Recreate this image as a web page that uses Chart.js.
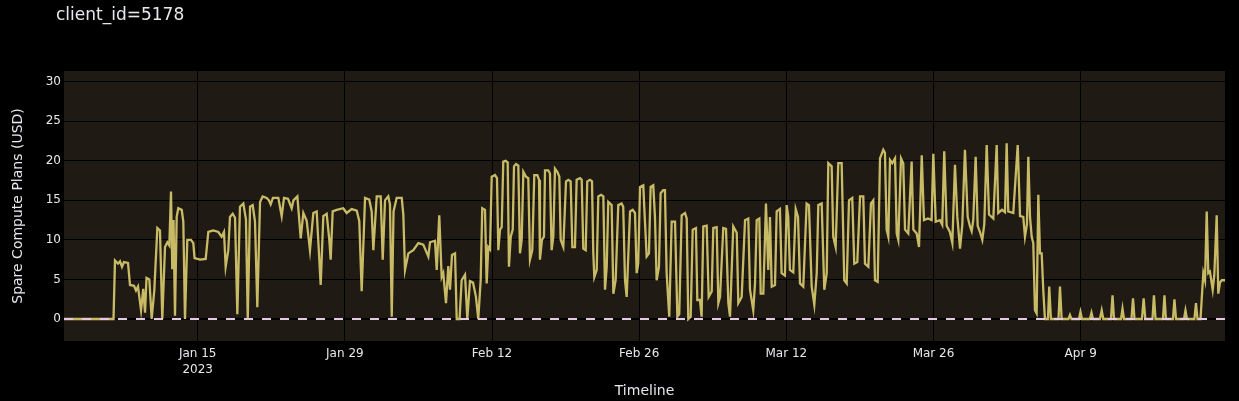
<!DOCTYPE html>
<html lang="en">
<head>
    <meta charset="UTF-8">
    <title>client_id=5178</title>
    <style>
        body {
            margin: 0;
            background-color: #000;
        }
        #wrap {
            position: relative;
            width: 1239px;
            height: 401px;
        }
        #wrap canvas { display: block; }
        #title {
            position: absolute;
            left: 56px;
            top: 4px;
            font-family: "DejaVu Sans", Verdana, sans-serif;
            font-size: 17px;
            color: #e6e8ec;
        }
    </style>
</head>
<body>

<div id="wrap">
    <div id="title">client_id=5178</div>
    <canvas id="chart" width="1239" height="401"></canvas>
</div>

<script src="https://cdn.jsdelivr.net/npm/chart.js"></script>

<script>
    // days since 2023-01-01 00:00
    const days = [
        1.28, 5.99, 6.13, 6.42, 6.61, 6.80, 6.99, 7.37, 7.56, 7.94,
        8.13, 8.32, 8.61, 8.82, 8.99, 9.13, 9.40, 9.62, 9.87, 10.16,
        10.41, 10.63, 10.89, 11.11, 11.30, 11.46, 11.58, 11.70, 11.84, 12.00,
        12.15, 12.48, 12.63, 12.79, 13.01, 13.36, 13.58, 13.70, 14.22, 14.76,
        15.01, 15.48, 15.96, 16.28, 16.50, 16.66, 16.91, 17.07, 17.33, 17.55,
        17.77, 18.02, 18.34, 18.59, 18.76, 18.98, 19.23, 19.45, 19.67, 19.93,
        20.18, 20.56, 20.78, 20.94, 21.16, 21.67, 21.99, 22.21, 22.59, 22.94,
        23.11, 23.48, 23.80, 24.05, 24.37, 24.68, 25.00, 25.32, 25.70, 25.95,
        26.27, 26.52, 26.65, 26.84, 27.22, 27.85, 28.17, 28.65, 29.13, 29.37,
        29.60, 29.92, 30.32, 30.55, 30.71, 31.03, 31.41, 31.60, 31.82, 32.13,
        32.29, 32.46, 32.63, 32.93, 33.41, 33.56, 33.72, 34.04, 34.51, 34.99,
        35.46, 35.94, 36.10, 36.57, 36.74, 36.98, 37.21, 37.36, 37.62, 37.84,
        38.00, 38.19, 38.48, 38.64, 38.91, 39.11, 39.43, 39.65, 39.90, 40.19,
        40.47, 40.69, 40.92, 41.07, 41.33, 41.49, 41.64, 41.81, 41.97, 42.28,
        42.47, 42.60, 42.76, 42.92, 43.07, 43.30, 43.49, 43.61, 43.78, 43.97,
        44.09, 44.28, 44.50, 44.66, 44.82, 44.98, 45.23, 45.45, 45.61, 45.83,
        46.02, 46.31, 46.47, 46.56, 46.75, 46.94, 47.04, 47.35, 47.51, 47.67,
        47.83, 47.99, 48.21, 48.40, 48.53, 48.78, 49.04, 49.26, 49.48, 49.64,
        49.89, 50.05, 50.37, 50.53, 50.68, 50.91, 51.06, 51.32, 51.51, 51.63,
        51.73, 51.96, 52.11, 52.37, 52.59, 52.75, 52.91, 53.06, 53.38, 53.54,
        53.76, 54.01, 54.33, 54.48, 54.65, 54.81, 54.96, 55.13, 55.38, 55.60,
        55.76, 55.91, 56.08, 56.39, 56.48, 56.71, 56.93, 57.09, 57.34, 57.50,
        57.66, 57.88, 58.04, 58.29, 58.45, 58.61, 58.86, 59.09, 59.41, 59.63,
        59.81, 60.04, 60.36, 60.52, 60.67, 60.90, 61.09, 61.40, 61.53, 61.78,
        61.94, 62.10, 62.42, 62.61, 62.90, 63.05, 63.37, 63.53, 63.69, 64.00,
        64.26, 64.48, 64.64, 64.95, 65.28, 65.43, 65.75, 66.07, 66.38, 66.54,
        66.85, 67.02, 67.18, 67.43, 67.56, 67.81, 68.06, 68.28, 68.44, 68.61,
        68.92, 69.08, 69.39, 69.55, 69.87, 70.03, 70.18, 70.34, 70.66, 70.89,
        71.11, 71.30, 71.61, 71.93, 72.15, 72.41, 72.66, 72.89, 73.04, 73.36,
        73.61, 73.84, 73.99, 74.31, 74.46, 74.69, 74.94, 75.26, 75.51, 75.74,
        75.96, 76.27, 76.46, 76.75, 77.01, 77.32, 77.48, 77.80, 78.05, 78.27,
        78.43, 78.69, 78.91, 79.22, 79.38, 79.54, 79.70, 79.86, 80.08, 80.34,
        80.50, 80.65, 80.91, 81.12, 81.29, 81.60, 81.92, 82.08, 82.40, 82.62,
        82.88, 83.09, 83.47, 83.82, 83.98, 84.21, 84.61, 84.83, 85.02, 85.25,
        85.56, 85.79, 86.04, 86.26, 86.52, 86.74, 86.99, 87.25, 87.47, 87.63,
        87.78, 88.01, 88.20, 88.42, 88.64, 88.83, 89.06, 89.28, 89.69, 90.01,
        90.16, 90.51, 90.80, 90.96, 91.11, 91.59, 92.01, 92.23, 92.54, 92.70,
        92.89, 93.02, 93.18, 93.34, 93.49, 93.65, 93.81, 93.97, 94.13, 94.29,
        94.44, 94.60, 94.89, 95.01, 95.17, 95.89, 96.03, 96.19, 96.84, 96.98,
        97.12, 97.84, 97.98, 98.12, 98.88, 99.03, 99.17, 99.83, 100.00, 100.15,
        100.88, 101.03, 101.17, 101.84, 101.98, 102.12, 102.83, 102.98, 103.12, 103.83,
        103.99, 104.15, 104.83, 104.97, 105.12, 105.83, 105.97, 106.11, 106.78, 106.92,
        107.07, 107.83, 107.97, 108.11, 108.82, 108.97, 109.11, 109.40, 109.51, 109.67,
        109.83, 109.99, 110.14, 110.30, 110.56, 110.71, 110.94, 111.09, 111.25, 111.41,
        111.73
    ];

    // spare compute plans, USD
    const spare = [
        0, 0, 7.4, 7.0, 7.3, 6.6, 7.2, 7.1, 4.3, 4.2,
        3.6, 4.1, 1.1, 3.8, 0.8, 5.2, 5.0, 0.0, 3.6, 11.5,
        11.2, 0, 9.1, 9.7, 9.3, 16.1, 6.3, 12.5, 0.4, 12.9,
        14.0, 13.8, 12.3, 0, 10.0, 10.0, 9.6, 7.7, 7.5, 7.6,
        11.0, 11.2, 11.0, 10.4, 11.0, 6.6, 8.7, 12.9, 13.3, 12.8,
        0.6, 14.2, 14.6, 12.6, 0, 14.2, 14.4, 12.3, 1.5, 14.8,
        15.5, 15.3, 15.0, 14.5, 15.3, 15.3, 13.0, 15.3, 15.2, 14.0,
        15.0, 15.5, 10.2, 13.4, 12.4, 8.7, 13.4, 13.6, 4.3, 13.0,
        13.3, 10.0, 7.5, 13.6, 13.8, 14.0, 13.4, 13.9, 13.7, 12.4,
        3.5, 15.3, 15.1, 13.6, 8.7, 15.5, 15.5, 7.5, 15.0, 15.5,
        14.5, 0.3, 13.6, 15.3, 15.3, 13.2, 6.2, 8.3, 8.7, 9.6,
        9.4, 7.9, 9.7, 9.9, 6.2, 13.1, 5.3, 5.8, 2.0, 6.7,
        3.7, 8.1, 8.3, 0, 0, 4.9, 5.6, 0, 4.8, 4.6,
        2.8, 0, 4.9, 14.0, 13.8, 4.5, 9.1, 8.8, 18.0, 18.2,
        17.8, 8.7, 11.3, 11.6, 19.9, 20.0, 19.8, 6.6, 10.4, 11.3,
        19.3, 19.6, 19.4, 8.3, 10.0, 18.6, 18.0, 17.8, 7.5, 8.7,
        18.2, 18.2, 17.6, 7.5, 10.0, 10.4, 18.8, 18.8, 18.4, 8.7,
        10.4, 19.0, 18.6, 18.0, 10.0, 9.1, 17.4, 17.6, 17.4, 9.1,
        9.1, 17.6, 17.8, 17.6, 8.9, 8.7, 17.4, 17.6, 17.4, 8.5,
        5.3, 6.2, 15.5, 15.7, 15.5, 3.7, 6.6, 14.8, 14.4, 3.2,
        4.9, 14.4, 14.6, 14.2, 4.9, 2.8, 7.9, 13.6, 13.8, 13.4,
        5.8, 7.0, 16.7, 16.9, 14.2, 7.9, 8.3, 16.7, 16.9, 12.9,
        4.9, 6.6, 15.9, 16.3, 16.3, 5.8, 0.3, 12.3, 12.3, 0.3,
        0.6, 13.1, 13.4, 12.7, 0, 0.3, 11.3, 11.5, 2.4, 2.4,
        0.3, 11.7, 11.8, 2.8, 3.5, 11.5, 11.6, 2.0, 2.8, 11.5,
        11.4, 2.0, 0.3, 11.7, 10.9, 2.0, 2.8, 12.5, 12.7, 3.7,
        1.1, 4.5, 12.5, 12.7, 3.2, 3.2, 14.6, 6.2, 12.9, 4.1,
        4.3, 13.6, 13.9, 5.8, 5.5, 14.4, 12.9, 6.2, 5.9, 13.9,
        12.9, 4.5, 4.1, 14.6, 14.4, 4.1, 1.8, 5.8, 14.4, 14.6,
        3.7, 5.8, 19.7, 19.3, 10.4, 9.1, 19.7, 19.7, 4.9, 4.5,
        15.0, 15.3, 7.0, 7.2, 15.5, 15.5, 7.0, 6.6, 14.6, 15.0,
        4.9, 4.7, 20.3, 21.4, 21.0, 11.3, 10.4, 20.1, 19.7, 20.3,
        10.8, 10.0, 20.3, 19.7, 11.3, 10.8, 19.9, 11.3, 10.8, 9.1,
        20.7, 12.5, 12.7, 12.5, 20.9, 12.3, 12.5, 11.9, 21.2, 11.8,
        11.0, 9.6, 19.5, 13.0, 8.9, 11.9, 21.4, 12.9, 11.7, 11.1,
        12.5, 20.5, 11.8, 11.0, 10.0, 12.0, 22.0, 13.2, 12.7, 22.0,
        13.4, 13.8, 13.5, 22.2, 13.6, 13.4, 22.0, 13.0, 12.9, 10.4,
        12.0, 20.5, 12.9, 10.4, 9.6, 1.1, 0.7, 15.7, 8.3, 8.3,
        3.7, 0, 0, 4.1, 0, 0, 4.1, 0, 0, 0.5,
        0, 0, 0.9, 0, 0, 0.8, 0, 0, 1.1, 0,
        0, 3.0, 0, 0, 1.3, 0, 0, 2.6, 0, 0,
        2.6, 0, 0, 3.0, 0, 0, 3.0, 0, 0, 2.5,
        0, 0, 1.1, 0, 0, 2.0, 0, 0, 2.4, 5.8,
        4.9, 13.6, 5.8, 6.0, 3.7, 5.5, 13.1, 3.2, 4.6, 4.9,
        4.9
    ];

    const xTickDays = [14, 28, 42, 56, 70, 84, 98];
    const xTickLabels = [['Jan 15', '2023'], 'Jan 29', 'Feb 12', 'Feb 26', 'Mar 12', 'Mar 26', 'Apr 9'];
    const yTicks = [0, 5, 10, 15, 20, 25, 30];
    const hlineValue = 0;

    const textColor = '#e6e8ec';
    Chart.defaults.font.family = '"DejaVu Sans", Verdana, sans-serif';
    Chart.defaults.color = textColor;

    const plotBackground = {
        id: 'plotBackground',
        beforeDraw(chart) {
            const { ctx, chartArea: a } = chart;
            ctx.save();
            ctx.fillStyle = '#000';
            ctx.fillRect(0, 0, chart.width, chart.height);
            ctx.fillStyle = '#1f1b14';
            ctx.fillRect(a.left, a.top, a.right - a.left, a.bottom - a.top);
            ctx.restore();
        }
    };

    const seriesPoints = days.map((d, i) => ({ x: d, y: spare[i] }));
    const hlinePoints = [
        { x: days[0], y: hlineValue },
        { x: days[days.length - 1], y: hlineValue }
    ];

    new Chart(document.getElementById('chart'), {
        type: 'line',
        data: {
            datasets: [
                {
                    label: 'zero',
                    data: hlinePoints,
                    borderColor: '#e4c9e4',
                    borderWidth: 2,
                    borderDash: [9, 9],
                    pointRadius: 0
                },
                {
                    label: 'Spare Compute Plans (USD)',
                    data: seriesPoints,
                    borderColor: '#c9bb66',
                    borderWidth: 2.3,
                    pointRadius: 0,
                    tension: 0
                }
            ]
        },
        options: {
            responsive: false,
            animation: false,
            layout: { padding: { top: 71, right: 14, left: 0, bottom: 0 } },
            plugins: {
                legend: { display: false },
                tooltip: { enabled: false },
                title: { display: false }
            },
            scales: {
                x: {
                    type: 'linear',
                    min: days[0],
                    max: days[days.length - 1],
                    afterBuildTicks: scale => { scale.ticks = xTickDays.map(v => ({ value: v })); },
                    afterFit: scale => { scale.height = 60; },
                    grid: { color: '#000', lineWidth: 1, drawTicks: false },
                    border: { display: false },
                    ticks: {
                        autoSkip: false,
                        maxRotation: 0,
                        padding: 4,
                        color: textColor,
                        font: { size: 12, lineHeight: 1.4 },
                        callback: value => xTickLabels[xTickDays.indexOf(value)]
                    },
                    title: {
                        display: true,
                        text: 'Timeline',
                        color: textColor,
                        font: { size: 14 },
                        padding: { top: 0, bottom: 1 }
                    }
                },
                y: {
                    type: 'linear',
                    min: -2.78,
                    max: 31.35,
                    afterBuildTicks: scale => { scale.ticks = yTicks.map(v => ({ value: v })); },
                    afterFit: scale => { scale.width = 64; },
                    grid: {
                        color: '#000',
                        lineWidth: ctx => (ctx.tick && ctx.tick.value === 0 ? 2 : 1),
                        drawTicks: false
                    },
                    border: { display: false },
                    ticks: {
                        padding: 3,
                        color: textColor,
                        font: { size: 12 }
                    },
                    title: {
                        display: true,
                        text: 'Spare Compute Plans (USD)',
                        color: textColor,
                        font: { size: 14 },
                        padding: { top: 10, bottom: 0 }
                    }
                }
            }
        },
        plugins: [plotBackground]
    });
</script>
</body>
</html>
